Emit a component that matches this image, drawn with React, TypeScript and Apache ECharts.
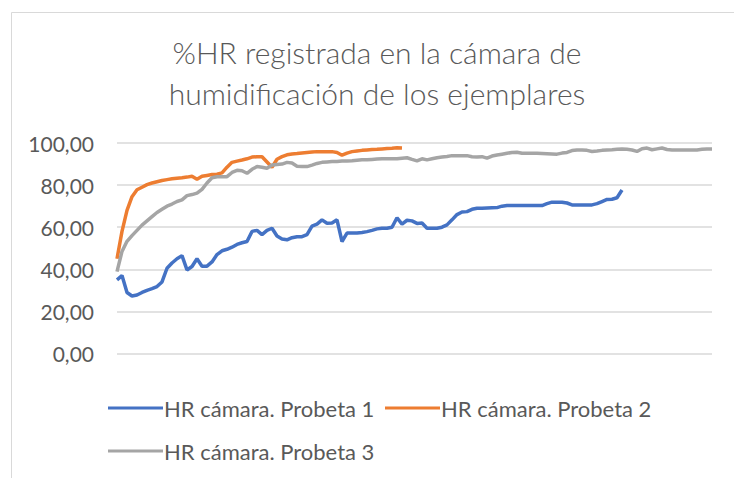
import React, { useEffect, useRef } from "react";
import * as echarts from "echarts";

const categories: string[] = Array.from({ length: 120 }, (_, i) => String(i + 1));

const probeta1: number[] = [
  35, 37, 29, 27.3, 27.8, 29, 30, 30.8, 31.8, 34,
  40.5, 43, 45, 46.5, 39.7, 41.3, 45, 41.5, 41.5, 43.5,
  47, 48.8, 49.5, 50.5, 51.8, 52.6, 53.2, 58, 58.5, 56.5,
  58.5, 59.5, 55.8, 54.4, 54, 55, 55.5, 55.5, 56.5, 60.5,
  61.5, 63.5, 61.9, 62, 63.5, 53.2, 57.2, 57.2, 57.2, 57.5,
  57.9, 58.5, 59.2, 59.5, 59.5, 60, 64.5, 61.5, 63.3, 63,
  61.8, 62, 59.5, 59.5, 59.5, 60, 61.1, 63.5, 66, 67.2,
  67.4, 68.5, 69, 69, 69.1, 69.2, 69.3, 70, 70.3, 70.3,
  70.3, 70.3, 70.3, 70.3, 70.3, 70.3, 71.2, 71.9, 71.9, 71.9,
  71.5, 70.6, 70.6, 70.6, 70.6, 70.6, 71.2, 72.2, 73.2, 73.3,
  74, 77.7,
];

const probeta2: number[] = [
  45, 58, 68, 74.5, 77.8, 79, 80.2, 81, 81.6, 82.2,
  82.6, 83, 83.3, 83.5, 83.8, 84.2, 82.8, 84.2, 84.6, 85,
  85.2, 85.8, 88.5, 90.8, 91.4, 91.9, 92.5, 93.3, 93.5, 93.5,
  91, 88.5, 92.3, 93.5, 94.4, 94.8, 95, 95.3, 95.5, 95.7,
  95.9, 95.9, 95.9, 95.9, 95.5, 94.2, 95.2, 95.9, 96.2, 96.5,
  96.7, 96.9, 97, 97.2, 97.4, 97.5, 97.7, 97.6,
];

const probeta3: number[] = [
  38.9, 48.5, 53.3, 56, 58.5, 61, 63, 65, 67, 68.5,
  70, 71, 72.2, 73, 75, 75.5, 76.2, 78, 81, 83.5,
  84, 84, 84, 86, 87, 86.8, 85.6, 87.5, 88.8, 88.5,
  88, 89.5, 89.8, 90, 90.8, 90.5, 89, 88.8, 88.8, 89.5,
  90.3, 90.8, 91, 91.2, 91.2, 91.4, 91.5, 91.6, 91.8, 92,
  92, 92.2, 92.4, 92.5, 92.5, 92.5, 92.5, 92.8, 93, 92.2,
  91.5, 92.5, 92, 92.5, 93, 93.3, 93.6, 94, 94, 94,
  94, 93.5, 93.4, 93.5, 92.8, 93.8, 94.3, 94.7, 95.1, 95.5,
  95.6, 95.1, 95.1, 95.1, 95.1, 95, 94.9, 94.8, 94.7, 95.2,
  95.5, 96.4, 96.7, 96.7, 96.5, 96, 96.2, 96.5, 96.7, 96.8,
  97, 97.2, 97, 96.7, 96, 97.3, 97.6, 96.8, 97.2, 97.6,
  96.9, 96.7, 96.7, 96.7, 96.7, 96.7, 96.7, 97, 97.2, 97.2,
];

const seriesNames: string[] = [
  "HR cámara. Probeta 1",
  "HR cámara. Probeta 2",
  "HR cámara. Probeta 3",
];

const titleText = "%HR registrada en la cámara de\nhumidificación de los ejemplares";

const FONT = "Lato, 'Noto Sans', sans-serif";
const TEXT_COLOR = "#595959";

export default function App() {
  const ref = useRef<HTMLDivElement>(null);

  useEffect(() => {
    if (!ref.current) return;
    const chart = echarts.init(ref.current, undefined, { renderer: "svg" });
    const legendBase = {
      orient: "horizontal" as const,
      icon: "rect",
      itemWidth: 55,
      itemHeight: 3,
      itemGap: 5,
      textStyle: {
        color: TEXT_COLOR,
        fontSize: 22,
        fontFamily: FONT,
        padding: [0, 0, 0, -4],
      },
      selectedMode: false,
    };
    chart.setOption({
      animation: false,
      backgroundColor: "#ffffff",
      textStyle: { fontFamily: FONT },
      title: {
        text: titleText,
        left: 372,
        top: 26,
        textAlign: "center",
        textStyle: {
          color: TEXT_COLOR,
          fontSize: 30,
          fontWeight: 300,
          lineHeight: 41,
          fontFamily: FONT,
        },
      },
      graphic: [
        {
          type: "rect",
          shape: { x: 11.5, y: 12.5, width: 760, height: 500 },
          style: { fill: "none", stroke: "#d9d9d9", lineWidth: 1 },
          silent: true,
        },
      ],
      legend: [
        { ...legendBase, data: [seriesNames[0]], left: 103, top: 392 },
        { ...legendBase, data: [seriesNames[1]], left: 380, top: 392 },
        { ...legendBase, data: [seriesNames[2]], left: 103, top: 435 },
      ],
      grid: { left: 117, right: 22, top: 143, bottom: 124.5, containLabel: false },
      xAxis: {
        type: "category",
        data: categories,
        boundaryGap: false,
        axisLine: { show: false },
        axisTick: { show: false },
        axisLabel: { show: false },
        splitLine: { show: false },
      },
      yAxis: {
        type: "value",
        min: 0,
        max: 100,
        interval: 20,
        axisLine: { show: false },
        axisTick: { show: false },
        axisLabel: {
          color: TEXT_COLOR,
          fontSize: 21,
          fontFamily: FONT,
          margin: 23,
          formatter: (v: number) => v.toFixed(2).replace(".", ","),
        },
        splitLine: { show: true, lineStyle: { color: "#d9d9d9", width: 1.5 } },
      },
      series: [
        {
          name: seriesNames[0],
          type: "line",
          data: probeta1,
          symbol: "none",
          lineStyle: { color: "#4472C4", width: 3.5 },
          itemStyle: { color: "#4472C4" },
        },
        {
          name: seriesNames[1],
          type: "line",
          data: probeta2,
          symbol: "none",
          lineStyle: { color: "#ED7D31", width: 3.5 },
          itemStyle: { color: "#ED7D31" },
        },
        {
          name: seriesNames[2],
          type: "line",
          data: probeta3,
          symbol: "none",
          lineStyle: { color: "#A5A5A5", width: 3.5 },
          itemStyle: { color: "#A5A5A5" },
        },
      ],
    });
    return () => chart.dispose();
  }, []);

  return (
    <div
      ref={ref}
      style={{ position: "fixed", left: 0, top: 0, width: 734, height: 478, background: "#fff" }}
    />
  );
}
